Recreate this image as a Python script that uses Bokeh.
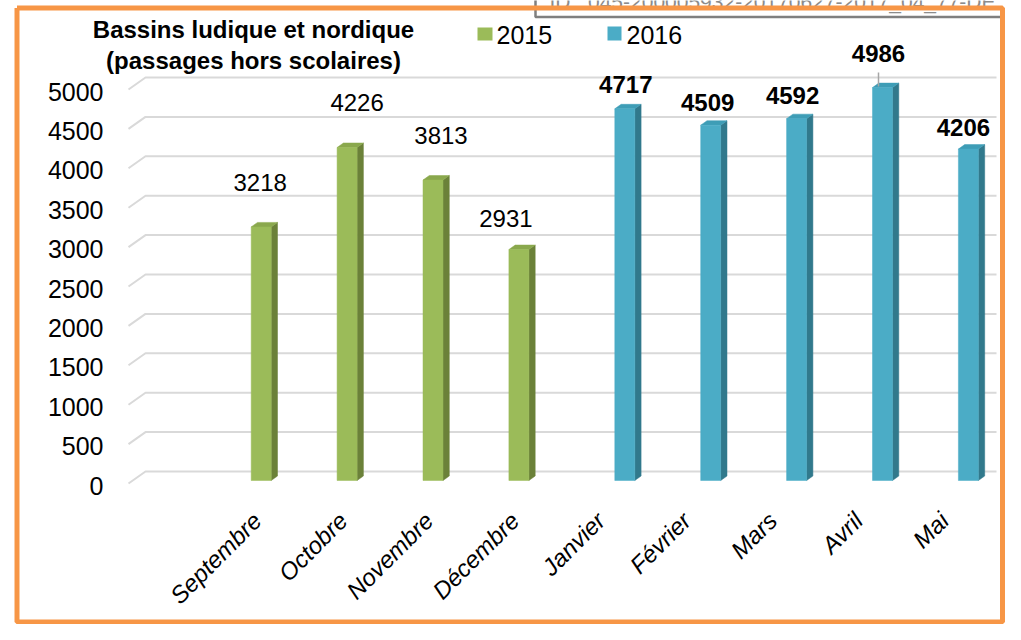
from math import pi
from bokeh.plotting import figure
from bokeh.models import Range1d
from bokeh.core.properties import value
from bokeh.embed import file_html
from bokeh.resources import INLINE

# ---------------- data ----------------
months = ["Septembre", "Octobre", "Novembre", "Décembre", "Janvier",
          "Février", "Mars", "Avril", "Mai"]
series_names = ["2015", "2016"]
months_2015 = ["Septembre", "Octobre", "Novembre", "Décembre"]
values_2015 = [3218, 4226, 3813, 2931]
months_2016 = ["Janvier", "Février", "Mars", "Avril", "Mai"]
values_2016 = [4717, 4509, 4592, 4986, 4206]
y_ticks = [0, 500, 1000, 1500, 2000, 2500, 3000, 3500, 4000, 4500, 5000]
title_lines = ["Bassins ludique et nordique", "(passages hors scolaires)"]
stamp_text = "ID : 045-200005932-20170627-2017_04_77-DE"

# ---------------- geometry / style ----------------
W, H = 1005, 624
XS = 85.9      # px per category
CX0 = 270.7    # px of first category centre
YS = 0.0788    # px per unit
BASE = 471     # px of value 0 on back wall
x_start = -CX0 / XS
x_end = x_start + W / XS
y_start = -(H - BASE) / YS
y_end = BASE / YS


def X(px):
    return x_start + px / XS


def Y(py):
    return (BASE - py) / YS


FONT = value("Liberation Sans")
GREEN, GREEN_SIDE, GREEN_TOP = "#9BBB59", "#6B8139", "#8AA84D"
BLUE, BLUE_SIDE, BLUE_TOP = "#4BACC6", "#31798C", "#3E9DB6"

p = figure(width=W, height=H, x_range=Range1d(x_start, x_end),
           y_range=Range1d(y_start, y_end), output_backend="svg",
           toolbar_location=None, x_axis_location=None, y_axis_location=None,
           min_border=0, tools="")
p.grid.visible = False
p.outline_line_color = None
p.background_fill_color = "white"
p.border_fill_color = "white"

# gridlines (back wall with perspective floor edge)
gx = [[X(128), X(145), X(996)] for _ in y_ticks]
gy = [[v - 12 / YS, v, v] for v in y_ticks]
p.multi_line(gx, gy, line_color="#D9D9D9", line_width=2)

# y tick labels
p.text(x=[X(103)] * len(y_ticks), y=[v - 14 / YS for v in y_ticks],
       text=[str(v) for v in y_ticks], text_font=FONT, text_font_size="25px",
       text_align="right", text_baseline="middle", text_color="black")

# bars
BW = 20 / XS
D = 6.3 / XS
R = 4.5 / YS
FO = 9 / YS


def draw_bars(names, vals, slot, front, side, top):
    lefts, rights, tops = [], [], []
    for n, v in zip(names, vals):
        c = months.index(n)
        l = c - BW if slot == 0 else c
        r = l + BW
        lefts.append(l)
        rights.append(r)
        tops.append(v - FO)
    bottoms = [-FO] * len(vals)
    sx = [[r, r + D, r + D, r] for r in rights]
    sy = [[-FO, -FO + R, t + R, t] for t in tops]
    p.patches(sx, sy, fill_color=side, line_color=side, line_width=0.5)
    tx = [[l, r, r + D, l + D] for l, r in zip(lefts, rights)]
    ty = [[t, t, t + R, t + R] for t in tops]
    p.patches(tx, ty, fill_color=top, line_color=top, line_width=0.5)
    p.quad(left=lefts, right=rights, bottom=bottoms, top=tops,
           fill_color=front, line_color=front, line_width=0.5)
    return [(l + r) / 2 for l, r in zip(lefts, rights)], tops


cg, tg = draw_bars(months_2015, values_2015, 0, GREEN, GREEN_SIDE, GREEN_TOP)
cb, tb = draw_bars(months_2016, values_2016, 1, BLUE, BLUE_SIDE, BLUE_TOP)

# value labels (offsets in px: dx, height above bar)
g_shift = [(-1, 44), (10, 45), (8, 45), (-13, 31)]
b_shift = [(1, 24), (-3, 23), (-4, 23), (-4, 34), (-5, 22)]
p.text(x=[c + s[0] / XS for c, s in zip(cg, g_shift)],
       y=[t + s[1] / YS for t, s in zip(tg, g_shift)],
       text=[str(v) for v in values_2015], text_font=FONT, text_font_size="24px",
       text_align="center", text_baseline="middle", text_color="black")
p.text(x=[c + s[0] / XS for c, s in zip(cb, b_shift)],
       y=[t + s[1] / YS for t, s in zip(tb, b_shift)],
       text=[str(v) for v in values_2016], text_font=FONT, text_font_size="24px",
       text_font_style="bold", text_align="center", text_baseline="middle",
       text_color="black")
# leader line for the highest label
k = values_2016.index(max(values_2016))
p.segment(x0=[cb[k] - 4 / XS], y0=[tb[k] + 1 / YS], x1=[cb[k] - 4 / XS],
          y1=[tb[k] + 15 / YS], line_color="#A6A6A6", line_width=1.5)

# category labels
p.text(x=[i - 14 / XS for i in range(len(months))], y=[Y(516)] * len(months),
       text=months, angle=pi / 4, text_font=FONT, text_font_size="24px",
       text_font_style="italic", text_align="right", text_baseline="middle",
       text_color="black")

# title
p.text(x=[X(253), X(253)], y=[Y(29), Y(60)], text=title_lines, text_font=FONT,
       text_font_size="24px", text_font_style="bold", text_align="center",
       text_baseline="middle", text_color="black")

# legend
p.quad(left=[X(477), X(607)], right=[X(492), X(621)], top=[Y(27), Y(26)],
       bottom=[Y(40), Y(40)], fill_color=[GREEN, BLUE], line_color=None)
p.text(x=[X(496), X(626)], y=[Y(34), Y(34)], text=series_names, text_font=FONT,
       text_font_size="25px", text_align="left", text_baseline="middle",
       text_color="black")

# stamp box (cut off at top)
p.text(x=[X(549)], y=[Y(1)], text=[stamp_text], text_font=FONT,
       text_font_size="21px", text_align="left", text_baseline="middle",
       text_color="#8C8C8C")
p.line([X(535), X(535), X(1010)], [Y(-5), Y(16.5), Y(16.5)],
       line_color="#7F7F7F", line_width=2.5)

# orange frame
p.line([X(16.5), X(1002), X(1002), X(16.5), X(16.5)],
       [Y(7.5), Y(7.5), Y(621.5), Y(621.5), Y(7.5)],
       line_color="#F79646", line_width=5)

open("out.html", "w").write(file_html(p, INLINE))
